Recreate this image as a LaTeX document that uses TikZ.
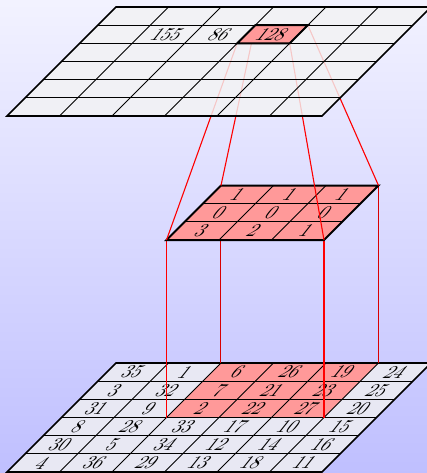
\documentclass[tikz,border=0pt]{standalone}
\begin{document}
\begin{tikzpicture}[x=0.5pt,y=0.5pt]
\tikzset{
  cellgrid/.style={x={(26.25pt,0pt)},y={(9.083pt,9.083pt)}},
  num/.style={font=\fontsize{9}{10}\selectfont, xslant=0.8, inner sep=0pt},
  outerline/.style={line width=0.8pt, black},
  innerline/.style={line width=0.4pt, black},
  thickline/.style={line width=1pt, black},
  conn/.style={red, line width=0.55pt},
  backconn/.style={red!85!black, line width=0.5pt},
}
\definecolor{botcell}{RGB}{232,232,243}
\definecolor{topcell}{RGB}{243,243,243}
% background
\fill[top color=blue!5, bottom color=blue!25] (0,0) rectangle (427,473);
\useasboundingbox (0,0) rectangle (427,473);

% named coordinates
\begin{scope}[shift={(3.5pt,0.5pt)}, cellgrid]
  \coordinate (bBL) at (2,3); \coordinate (bBR) at (5,3);
  \coordinate (bTL) at (2,6); \coordinate (bTR) at (5,6);
\end{scope}
\begin{scope}[shift={(3.5pt,89.25pt)}, cellgrid]
  \coordinate (kBL) at (2,3); \coordinate (kBR) at (5,3);
  \coordinate (kTL) at (2,6); \coordinate (kTR) at (5,6);
\end{scope}
\begin{scope}[shift={(3.5pt,178.5pt)}, cellgrid]
  \coordinate (tBL) at (3,4); \coordinate (tBR) at (4,4);
  \coordinate (tTL) at (3,5); \coordinate (tTR) at (4,5);
\end{scope}

% bottom grid
\begin{scope}[shift={(3.5pt,0.5pt)}, cellgrid]
  \fill[botcell] (0,0) -- (6,0) -- (6,6) -- (0,6) -- cycle;
  \fill[red!40] (2,3) -- (5,3) -- (5,6) -- (2,6) -- cycle;
  \foreach \i in {1,...,5} \draw[innerline] (\i,0) -- (\i,6);
  \foreach \j in {1,...,5} \draw[innerline] (0,\j) -- (6,\j);
  \draw[outerline] (0,0) -- (6,0) -- (6,6) -- (0,6) -- cycle;
  \foreach \v [count=\k from 0] in {35,1,6,26,19,24, 3,32,7,21,23,25, 31,9,2,22,27,20, 8,28,33,17,10,15, 30,5,34,12,14,16, 4,36,29,13,18,11} {
    \pgfmathtruncatemacro{\c}{mod(\k,6)}
    \pgfmathtruncatemacro{\r}{5-floor(\k/6)}
    \node[num] (b\k) at (\c+0.5,\r+0.5) {\v};
  }
\end{scope}

% vertical connectors
\draw[backconn] (kTL) -- (bTL);
\draw[backconn] (kTR) -- (bTR);
\draw[conn] (kBL) -- (bBL);
\draw[conn] (kBR) -- (bBR);

% kernel
\begin{scope}[shift={(3.5pt,89.25pt)}, cellgrid]
  \fill[red!40] (2,3) -- (5,3) -- (5,6) -- (2,6) -- cycle;
  \foreach \i in {3,4} \draw[innerline] (\i,3) -- (\i,6);
  \foreach \j in {4,5} \draw[innerline] (2,\j) -- (5,\j);
  \draw[thickline] (2,3) -- (5,3) -- (5,6) -- (2,6) -- cycle;
  \foreach \v [count=\k from 0] in {1,1,1, 0,0,0, 3,2,1} {
    \pgfmathtruncatemacro{\c}{mod(\k,3)+2}
    \pgfmathtruncatemacro{\r}{5-floor(\k/3)}
    \node[num] (k\k) at (\c+0.5,\r+0.5) {\v};
  }
\end{scope}

% diagonal connectors
\draw[conn] (tBL) -- (kBL);
\draw[conn] (tTL) -- (kTL);
\draw[conn] (tBR) -- (kBR);
\draw[conn] (tTR) -- (kTR);

% top grid
\begin{scope}[shift={(3.5pt,178.5pt)}, cellgrid]
  \fill[topcell, fill opacity=0.82] (0,0) -- (6,0) -- (6,6) -- (0,6) -- cycle;
  \fill[red!40] (3,4) -- (4,4) -- (4,5) -- (3,5) -- cycle;
  \foreach \i in {1,...,5} \draw[innerline] (\i,0) -- (\i,6);
  \foreach \j in {1,...,5} \draw[innerline] (0,\j) -- (6,\j);
  \draw[outerline] (0,0) -- (6,0) -- (6,6) -- (0,6) -- cycle;
  \draw[thickline] (3,4) -- (4,4) -- (4,5) -- (3,5) -- cycle;
  \node[num] (t1) at (1.5,4.5) {155};
  \node[num] (t2) at (2.5,4.5) {86};
  \node[num] (t3) at (3.5,4.5) {128};
\end{scope}
\end{tikzpicture}
\end{document}
